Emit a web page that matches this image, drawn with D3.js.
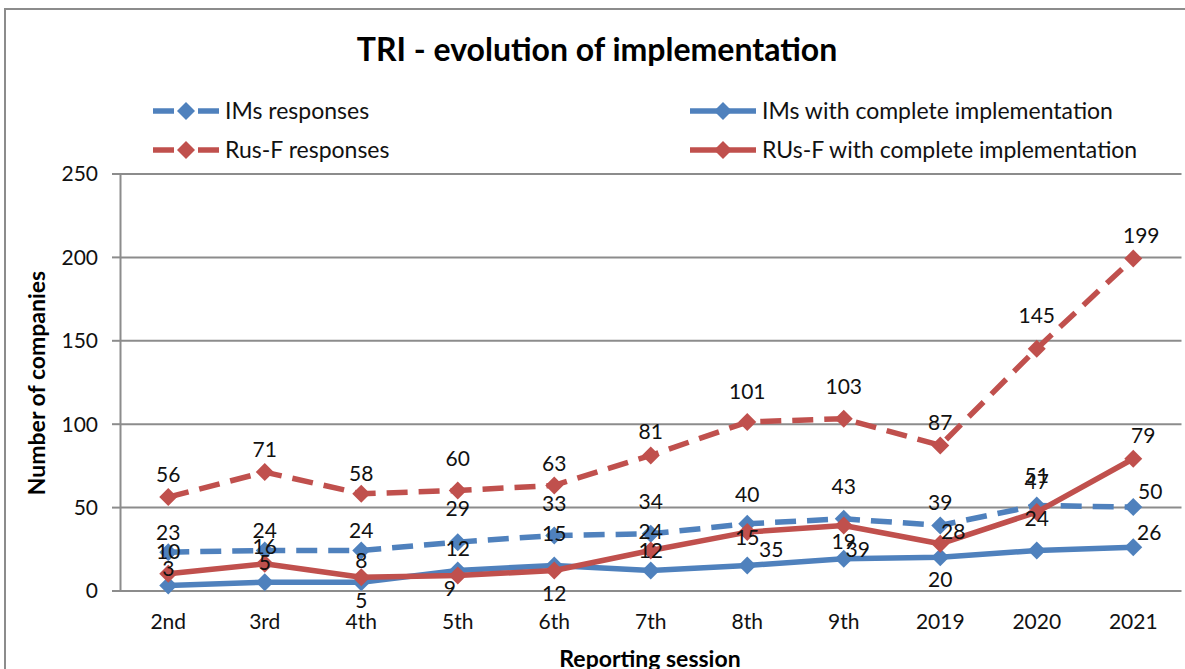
<!DOCTYPE html>
<meta charset="utf-8">
<style>
    body {margin: 0; background: #fff;}
    svg {font-family: 'Lato', 'Liberation Sans', sans-serif;}
</style>

<svg width="1185" height="669"></svg>

<script src="https://cdnjs.cloudflare.com/ajax/libs/d3/7.8.5/d3.min.js"></script>
<script>

// DATA
var sessions = ["2nd", "3rd", "4th", "5th", "6th", "7th", "8th", "9th", "2019", "2020", "2021"];
var imsResponses = [23, 24, 24, 29, 33, 34, 40, 43, 39, 51, 50];
var imsComplete = [3, 5, 5, 12, 15, 12, 15, 19, 20, 24, 26];
var rusResponses = [56, 71, 58, 60, 63, 81, 101, 103, 87, 145, 199];
var rusComplete = [10, 16, 8, 9, 12, 24, 35, 39, 28, 47, 79];
var yTicks = [0, 50, 100, 150, 200, 250];

var blue = "#4f81bd", red = "#c0504d", grid = "#8c8c8c";

// label placement (dx, dy from the point), hand placed like the original
var nudge = {
  imsResponses: [[0,-19],[0,-20],[0,-20],[0,-33],[0,-32],[0,-32],[0,-29],[0,-32],[0,-23],[0,-30],[17,-15]],
  imsComplete:  [[0,-17],[0,-20],[0,18],[0,-22],[0,-32],[0,-20],[0,-28],[0,-17],[0,23],[0,-32],[16,-14]],
  rusResponses: [[0,-22],[0,-22],[0,-20],[0,-32],[0,-22],[0,-24],[0,-30],[0,-32],[0,-23],[0,-33],[8,-23]],
  rusComplete:  [[0,-22],[0,-17],[0,-17],[-8,13],[0,23],[0,-19],[24,18],[14,24],[13,-12],[0,-30],[10,-23]]
};

var series = [
  {key: "imsResponses", name: "IMs responses", values: imsResponses, color: blue, dashed: true},
  {key: "imsComplete", name: "IMs with complete implementation", values: imsComplete, color: blue, dashed: false},
  {key: "rusResponses", name: "Rus-F responses", values: rusResponses, color: red, dashed: true},
  {key: "rusComplete", name: "RUs-F with complete implementation", values: rusComplete, color: red, dashed: false}
];

var svg = d3.select("svg"),
    width = +svg.attr("width"),
    height = +svg.attr("height");

var plotLeft = 120, plotRight = 1181.5, plotTop = 173.5, plotBottom = 590.5;
var numSize = "21px", textSize = "23px";

var x = d3.scaleBand().domain(sessions).range([plotLeft, plotRight]);
var y = d3.scaleLinear().domain([0, 250]).range([plotBottom, plotTop]);
var cx = function(d, i) { return x(sessions[i]) + x.bandwidth() / 2; };

// outer frame
svg.append("rect")
   .attr("x", 5).attr("y", 9)
   .attr("width", 1200).attr("height", 700)
   .style("fill", "none")
   .style("stroke", grid)
   .style("stroke-width", 2);

// title
svg.append("text")
   .attr("x", 597).attr("y", 61)
   .attr("text-anchor", "middle")
   .style("font-size", "32px")
   .style("font-weight", "bold")
   .text("TRI - evolution of implementation");

// gridlines + y axis
var yAxis = d3.axisLeft(y).tickValues(yTicks).tickSize(8).tickPadding(14);
var gy = svg.append("g").attr("transform", "translate(" + plotLeft + ",0)").call(yAxis)
   .attr("font-family", null).attr("font-size", null);
gy.select(".domain").style("stroke", grid).style("stroke-width", 2);
gy.selectAll(".tick line").style("stroke", grid).style("stroke-width", 2);
gy.selectAll(".tick text").style("font-size", numSize).style("fill", "#111").attr("dy", "0.35em");
gy.selectAll(".tick").append("line")
  .attr("x1", 0).attr("x2", plotRight - plotLeft)
  .style("stroke", grid).style("stroke-width", 2);

// x axis
var xAxis = d3.axisBottom(x).tickSize(0).tickPadding(24);
var gx = svg.append("g").attr("transform", "translate(0," + plotBottom + ")").call(xAxis)
   .attr("font-family", null).attr("font-size", null);
gx.select(".domain").remove();
gx.selectAll(".tick text").style("font-size", numSize).style("fill", "#111");

// axis titles
svg.append("text")
   .attr("transform", "translate(45,383) rotate(-90)")
   .attr("text-anchor", "middle")
   .style("font-size", textSize)
   .style("font-weight", "bold")
   .text("Number of companies");

svg.append("text")
   .attr("x", 650).attr("y", 667)
   .attr("text-anchor", "middle")
   .style("font-size", textSize)
   .style("font-weight", "bold")
   .text("Reporting session");

function diamond(r) {
  return "M0," + (-r) + "L" + r + ",0L0," + r + "L" + (-r) + ",0Z";
}

var line = d3.line()
    .x(cx)
    .y(function(d) { return y(d); });

// series
series.forEach(function(s) {
  var g = svg.append("g");
  g.append("path")
   .datum(s.values)
   .attr("d", line)
   .style("fill", "none")
   .style("stroke", s.color)
   .style("stroke-width", 5.5)
   .style("stroke-dasharray", s.dashed ? "21,11" : null)
   .style("stroke-linejoin", "round");
  g.selectAll("path.marker")
   .data(s.values)
   .enter().append("path")
   .attr("class", "marker")
   .attr("d", diamond(9))
   .attr("transform", function(d, i) { return "translate(" + cx(d, i) + "," + y(d) + ")"; })
   .style("fill", s.color);
});

// data labels on top
series.forEach(function(s) {
  svg.append("g").selectAll("text")
     .data(s.values)
     .enter().append("text")
     .attr("x", function(d, i) { return cx(d, i) + nudge[s.key][i][0]; })
     .attr("y", function(d, i) { return y(d) + nudge[s.key][i][1]; })
     .attr("dy", "0.35em")
     .attr("text-anchor", "middle")
     .style("font-size", numSize)
     .style("fill", "#111")
     .text(function(d) { return d; });
});

// legend
var legendPos = [[153, 111], [690, 111], [153, 150], [690, 150]];
series.forEach(function(s, i) {
  var lg = svg.append("g").attr("transform", "translate(" + legendPos[i][0] + "," + legendPos[i][1] + ")");
  if (s.dashed) {
    lg.append("line").attr("x1", 0).attr("x2", 21).style("stroke", s.color).style("stroke-width", 5.5);
    lg.append("line").attr("x1", 45).attr("x2", 66).style("stroke", s.color).style("stroke-width", 5.5);
  } else {
    lg.append("line").attr("x1", 0).attr("x2", 66).style("stroke", s.color).style("stroke-width", 5.5);
  }
  lg.append("path").attr("d", diamond(9)).attr("transform", "translate(33,0)").style("fill", s.color);
  lg.append("text")
    .attr("x", 72).attr("dy", "0.35em")
    .style("font-size", textSize)
    .style("fill", "#111")
    .text(s.name);
});

</script>
